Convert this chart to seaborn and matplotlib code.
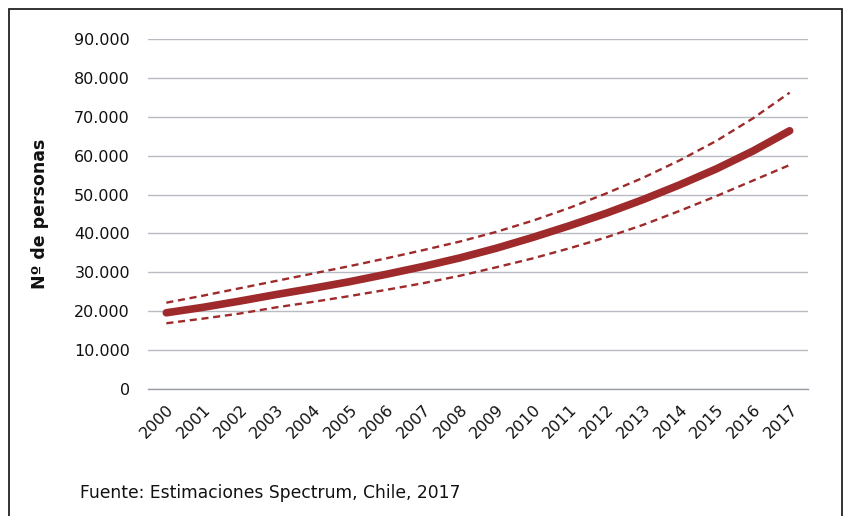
import matplotlib
matplotlib.use("Agg")
import matplotlib.pyplot as plt
import matplotlib.patches as mpatches
import seaborn as sns
import pandas as pd

years = [str(y) for y in range(2000, 2018)]
estimate = [19600, 21000, 22600, 24300, 25900, 27600, 29500, 31500, 33700,
            36200, 39000, 42000, 45200, 48700, 52500, 56600, 61200, 66400]
upper = [22200, 24000, 25900, 27800, 29700, 31600, 33600, 35700, 37900,
         40400, 43300, 46600, 50300, 54300, 58800, 63800, 69600, 76200]
lower = [16900, 18100, 19400, 21000, 22400, 23900, 25500, 27200, 29100,
         31300, 33600, 36200, 39000, 42200, 45800, 49600, 53600, 57600]
yticks = [0, 10000, 20000, 30000, 40000, 50000, 60000, 70000, 80000, 90000]
ytick_labels = ["0", "10.000", "20.000", "30.000", "40.000", "50.000",
                "60.000", "70.000", "80.000", "90.000"]
ylabel = "Nº de personas"
source = "Fuente: Estimaciones Spectrum, Chile, 2017"

sns.set_style("white")
plt.rcParams['font.family'] = ['DejaVu Sans']

df = pd.DataFrame({"year": years, "estimate": estimate, "upper": upper, "lower": lower})
df["pos"] = range(len(years))

fig = plt.figure(figsize=(8.45, 5.16), dpi=100)
ax = fig.add_axes([148/845, 1-389/516, (808-148)/845, (389-39)/516])

red = "#9E2A2B"
sns.lineplot(data=df, x="pos", y="upper", ax=ax, color=red, linewidth=1.7,
             linestyle=(0, (3, 2)))
sns.lineplot(data=df, x="pos", y="lower", ax=ax, color=red, linewidth=1.7,
             linestyle=(0, (3, 2)))
sns.lineplot(data=df, x="pos", y="estimate", ax=ax, color=red, linewidth=5.5,
             solid_capstyle="round")

ax.set_xlim(-0.5, len(years) - 0.5)
ax.set_ylim(0, 90000)
ax.set_yticks(yticks)
ax.set_yticklabels(ytick_labels, fontsize=11.5)
ax.yaxis.grid(True, color="#B8BBC2", linewidth=1.0)
ax.set_axisbelow(True)
ax.tick_params(axis="y", length=0, pad=13, colors="#111111")

ax.set_xticks(range(len(years)))
ax.set_xticklabels(years, rotation=45, ha="right", rotation_mode="anchor", fontsize=11.5)
ax.set_xticks([i - 0.5 for i in range(len(years) + 1)], minor=True)
ax.tick_params(axis="x", which="major", length=0, pad=9, colors="#111111")
ax.tick_params(axis="x", which="minor", length=5, color="#9A9EA6", width=1)

for s in ["left", "right", "top"]:
    ax.spines[s].set_visible(False)
ax.spines["bottom"].set_color("#9A9EA6")
ax.spines["bottom"].set_linewidth(1.0)

ax.set_xlabel("")
ax.set_ylabel(ylabel, fontsize=12.5, fontweight="bold", color="#111111")
ax.yaxis.set_label_coords(-0.15, 0.5)

fig.text(80/845, 1-493/516, source, fontsize=12.3, va="center", ha="left", color="#111111")

rect = mpatches.Rectangle((9/845, -0.05), (842-9)/845, (1-9/516) + 0.05,
                          transform=fig.transFigure, fill=False,
                          edgecolor="#222222", linewidth=1.3, clip_on=False)
fig.patches.append(rect)

fig.savefig("out.png", dpi=100)
